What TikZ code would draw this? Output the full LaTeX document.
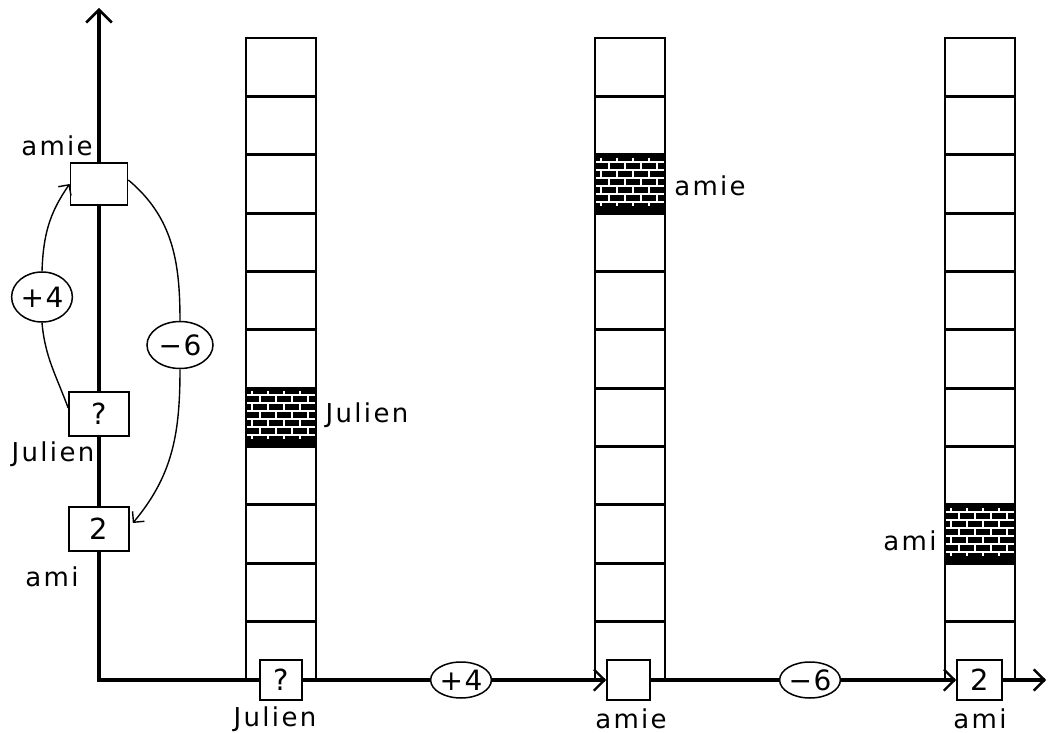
\documentclass[tikz,border=0pt]{standalone}
\usepackage{fontspec}
\usetikzlibrary{arrows.meta,shapes.geometric}
\newfontfamily\labelfont{DejaVu Sans}[LetterSpace=9]
\newfontfamily\valfont{DejaVu Sans}[LetterSpace=6]

% one filled cell of a column: #1 left edge, #2 top edge
\newcommand\brickcell[2]{
  \fill (#1,#2) rectangle ++(70,58.36);
  \foreach \j in {0,...,5}
    \draw[mortar] (#1+1,#2+7+8*\j) -- ++(68,0);
  \foreach \r [evaluate=\r as \off using {6+8*mod(\r+1,2)}] in {0,...,4}
    \foreach \m in {0,...,3}
      \draw[mortar] (#1+\off+16*\m,#2+7+8*\r) -- ++(0,8);
  \foreach \m in {0,...,3}{
    \draw[mortar] (#1+6+16*\m,#2+3) -- ++(0,4);
    \draw[mortar] (#1+6+16*\m,#2+47) -- ++(0,4);
  }
}

\begin{document}
\begin{tikzpicture}[x=1pt,y=-1pt,
    axis/.style={line width=3.2pt, line cap=rect},
    xtip/.style={-{Straight Barb[angle=90:15pt, line width=2.4pt]}},
    ytip/.style={-{Straight Barb[angle=90:18pt, line width=2.6pt]}},
    ctip/.style={-{Straight Barb[angle=90:11pt, line width=1.4pt]}},
    cell/.style={line width=2pt},
    sep/.style={line width=2.9pt},
    mortar/.style={white, line width=2pt},
    valbox/.style={draw, fill=white, line width=1.7pt, inner sep=0pt,
      font=\valfont\fontsize{29}{32}\selectfont},
    opnode/.style={draw, fill=white, ellipse, line width=1.5pt, inner sep=0pt,
      font=\valfont\fontsize{28}{30}\selectfont},
    word/.style={inner sep=0pt, font=\labelfont\fontsize{26}{30}\selectfont},
    link/.style={line width=1.4pt}]
  \fill[white] (0,0) rectangle (1055,733);
  \useasboundingbox (0,0) rectangle (1055,733);

  % memory columns
  \foreach \cx in {246,595,945}{
    \draw[cell] (\cx,680) |- (\cx+70,38) -- (\cx+70,680);
    \foreach \k in {1,...,10}
      \draw[sep] (\cx,38+58.36*\k) -- ++(70,0);
  }
  \brickcell{246}{387.8}
  \brickcell{595}{154.7}
  \brickcell{945}{504.9}

  % cell labels
  \node[word] (cjul) at (367,415) {Julien};
  \node[word] (camie) at (710,186) {amie};
  \node[word] (cami) at (910,541) {ami};

  % left axis with the three values
  \coordinate (origin) at (99,680);
  \coordinate (ytop) at (99,8);
  \coordinate (xend) at (1046,680);
  \node[valbox, minimum width=57pt, minimum height=42pt] (amiebox) at (99,184) {};
  \node[valbox, minimum width=60pt, minimum height=44pt] (qbox) at (99,414) {?};
  \node[valbox, minimum width=60pt, minimum height=44pt] (twobox) at (99,529) {2};
  \node[word] (lamie) at (57,146) {amie};
  \node[word] (ljul) at (53,454) {Julien};
  \node[word] (lami) at (52,577) {ami};
  \node[opnode, minimum width=56pt, minimum height=50pt] (plusl) at (42,297) {+4};
  \node[opnode, minimum width=66pt, minimum height=47pt] (minusl) at (180,345) {−6};

  % bottom axis
  \node[valbox, minimum width=42pt, minimum height=40pt] (jbox) at (281,680) {?};
  \node[valbox, minimum width=43pt, minimum height=40pt] (abox) at (628.5,680) {};
  \node[valbox, minimum width=45pt, minimum height=40pt] (tbox) at (979.5,680) {2};
  \node[opnode, minimum width=58pt, minimum height=36pt] (plusb) at (461,680) {+4};
  \node[opnode, minimum width=57pt, minimum height=36pt] (minusb) at (810,680) {−6};
  \node[word] (bjul) at (275,719) {Julien};
  \node[word] (bamie) at (631,719) {amie};
  \node[word] (bami) at (980,719) {ami};

  \draw[axis] (origin) -- (twobox) (twobox) -- (qbox) (qbox) -- (amiebox);
  \draw[axis, ytip] (amiebox) -- (ytop);
  \draw[axis] (origin) -- (jbox) (jbox) -- (plusb);
  \draw[axis, xtip] (plusb) -- (abox);
  \draw[axis] (abox) -- (minusb);
  \draw[axis, xtip] (minusb) -- (tbox);
  \draw[axis, xtip] (tbox) -- (xend);

  % offsets between the values
  \draw[link] ([yshift=6pt]qbox.west) to[out=110,in=-85] (plusl.south);
  \draw[link, ctip] (plusl.north) to[out=88,in=-125] (amiebox.west);
  \draw[link] ([yshift=4pt]amiebox.east) to[out=-40,in=90] (minusl.north);
  \draw[link, ctip] (minusl.south) to[out=-90,in=50] ([xshift=3pt,yshift=6pt]twobox.east);
\end{tikzpicture}
\end{document}
